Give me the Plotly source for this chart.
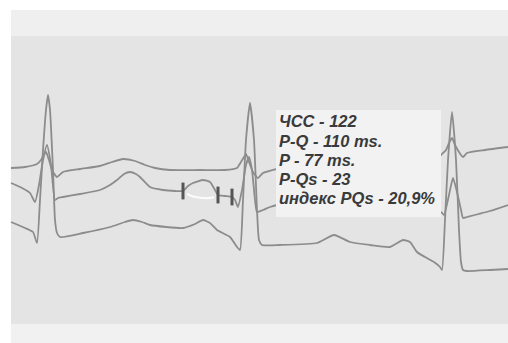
import plotly.graph_objects as go

# ---- Lead traces (pixel-space readings from the scanned ECG) ----
lead1_x = [11, 25, 37, 41, 44, 46, 49, 52, 57, 63, 80, 100, 112, 123, 135, 145, 155, 170, 200, 225, 237, 241, 244,
           246, 249, 253, 258, 263, 277, 300, 360, 420, 436, 441, 446, 449, 452, 455, 459, 463, 467, 485, 508]
lead1_y = [168, 167, 164, 160, 155, 152, 160, 170, 177, 172, 169, 166, 162, 159, 161, 165, 168, 170, 170, 170, 168,
           162, 157, 154, 162, 172, 178, 173, 169, 168, 167, 165, 160, 155, 150, 143, 138, 145, 152, 157, 153, 150, 147]

lead2_x = [11, 22, 30, 35, 39, 43, 47, 51, 55, 58, 63, 80, 100, 110, 117, 124, 130, 136, 140, 150, 163, 175, 183,
           188, 193, 203, 210, 215, 218, 225, 232, 235, 238, 242, 246, 249, 252, 255, 257, 263, 270, 277, 300, 350,
           400, 430, 441, 444, 449, 453, 457, 461, 463, 467, 490, 508]
lead2_y = [183, 188, 193, 202, 185, 160, 145, 165, 200, 198, 197, 194, 190, 185, 180, 174, 172, 174, 177, 187, 190,
           191, 191, 186, 183, 180, 182, 190, 195, 196, 197, 200, 207, 190, 165, 157, 170, 200, 212, 210, 207, 205,
           205, 205, 207, 210, 212, 215, 195, 178, 192, 210, 218, 217, 211, 205]

lead3_x = [11, 25, 33, 37, 40, 43, 46, 48, 50, 53, 55, 57, 60, 83, 110, 125, 133, 142, 150, 183, 195, 203, 210, 217,
           230, 237, 240, 243, 246, 250, 254, 257, 259, 262, 280, 317, 334, 350, 370, 390, 403, 410, 417, 425, 434,
           440, 442, 445, 448, 452, 456, 459, 461, 463, 467, 490, 508]
lead3_y = [222, 228, 232, 243, 200, 150, 110, 95, 110, 170, 220, 233, 237, 233, 227, 222, 220, 222, 225, 228, 224,
           220, 223, 230, 237, 247, 250, 200, 140, 103, 140, 210, 240, 245, 245, 243, 235, 242, 245, 247, 240, 242,
           252, 257, 262, 267, 270, 220, 160, 112, 160, 230, 262, 270, 271, 270, 269]

# P-wave caliper marks on lead 2
caliper_x = [183, 218, 232]
caliper_y = [191, 195, 197]

# erased (white) streak under the P wave
streak_x = [187, 195, 203, 210, 214]
streak_y = [194, 197, 198, 198, 197]

# annotation text lines
info_lines = ["ЧСС - 122", "P-Q - 110 ms.", "P - 77 ms.", "P-Qs - 23", "индекс PQs - 20,9%"]
info_y = [121, 141, 160, 179, 198]

TRACE = "#8c8c8c"

fig = go.Figure()
for xs, ys in [(lead1_x, lead1_y), (lead2_x, lead2_y), (lead3_x, lead3_y)]:
    fig.add_trace(go.Scatter(x=xs, y=ys, mode="lines",
                             line=dict(color=TRACE, width=1.8, shape="spline", smoothing=0.5),
                             hoverinfo="skip", showlegend=False))

fig.add_trace(go.Scatter(x=streak_x, y=streak_y, mode="lines",
                         line=dict(color="rgba(255,255,255,0.85)", width=2.2, shape="spline"),
                         hoverinfo="skip", showlegend=False))
fig.add_trace(go.Scatter(x=caliper_x, y=caliper_y, mode="markers",
                         marker=dict(symbol="line-ns", size=12, line=dict(color="#555555", width=3)),
                         hoverinfo="skip", showlegend=False))

shapes = [
    dict(type="rect", x0=11, x1=508, y0=10, y1=36, fillcolor="#efefef", line=dict(width=0), layer="below"),
    dict(type="rect", x0=11, x1=508, y0=36, y1=324, fillcolor="#e4e4e4", line=dict(width=0), layer="below"),
    dict(type="rect", x0=11, x1=508, y0=324, y1=343, fillcolor="#f1f1f1", line=dict(width=0), layer="below"),
    dict(type="rect", x0=276, x1=441, y0=110, y1=217, fillcolor="#f2f2f2", line=dict(width=0), layer="above"),
]

annotations = []
for txt, yy in zip(info_lines, info_y):
    annotations.append(dict(x=277, y=yy, xref="x", yref="y", text="<b><i>" + txt + "</i></b>",
                            showarrow=False, xanchor="left", yanchor="middle",
                            font=dict(family="Liberation Sans, Arial, sans-serif", size=16.5, color="#3a3a3a")))

fig.update_layout(
    width=508, height=343,
    margin=dict(l=0, r=0, t=0, b=0),
    paper_bgcolor="white", plot_bgcolor="white",
    xaxis=dict(range=[0, 508], visible=False, fixedrange=True),
    yaxis=dict(range=[343, 0], visible=False, fixedrange=True),
    shapes=shapes, annotations=annotations,
    showlegend=False,
)

fig.write_html("out.html", config={"displayModeBar": False},
               post_script="document.body.style.margin='0';document.body.style.overflow='hidden';")
